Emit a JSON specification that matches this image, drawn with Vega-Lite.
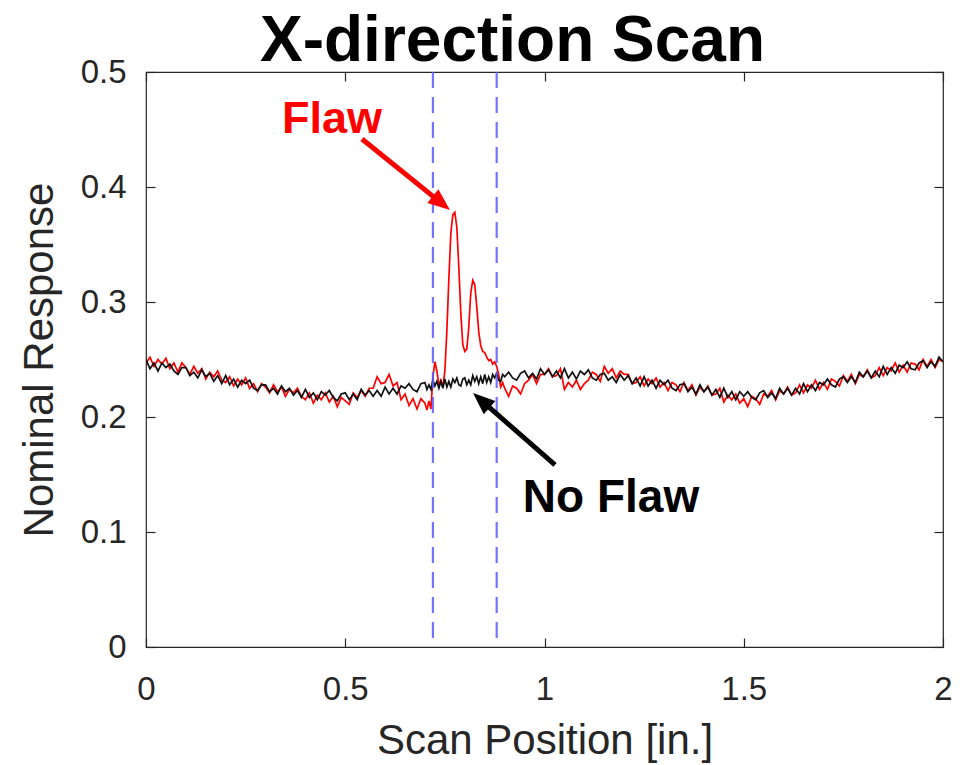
{
  "$schema": "https://vega.github.io/schema/vega-lite/v6.json",
  "width": 797,
  "height": 575,
  "autosize": {"type": "none"},
  "padding": {"left": 146, "top": 72, "right": 19, "bottom": 118},
  "background": "white",
  "title": {
    "text": "X-direction Scan",
    "font": "Liberation Sans",
    "fontSize": 64,
    "fontWeight": "bold",
    "color": "#000000",
    "anchor": "middle",
    "baseline": "bottom",
    "offset": 0,
    "dx": -32,
    "dy": 82
  },
  "config": {
    "view": {"stroke": "#262626", "strokeWidth": 1.2},
    "axis": {
      "grid": false,
      "domain": false,
      "labelFlush": false,
      "tickColor": "#262626",
      "tickSize": -9,
      "tickWidth": 1.2,
      "labelFont": "Liberation Sans",
      "labelFontSize": 33,
      "labelColor": "#262626",
      "titleFont": "Liberation Sans",
      "titleFontSize": 42,
      "titleFontWeight": "normal",
      "titleColor": "#262626"
    }
  },
  "layer": [
    {
      "data": {
        "values": [
          {"x":0.00,"n":0.250,"f":0.247},{"x":0.01,"n":0.242,"f":0.252},{"x":0.02,"n":0.247,"f":0.244},{"x":0.03,"n":0.240,"f":0.250},{"x":0.04,"n":0.247,"f":0.246},
          {"x":0.05,"n":0.243,"f":0.251},{"x":0.06,"n":0.246,"f":0.242},{"x":0.07,"n":0.240,"f":0.247},{"x":0.08,"n":0.237,"f":0.239},{"x":0.09,"n":0.243,"f":0.247},
          {"x":0.10,"n":0.243,"f":0.243},{"x":0.11,"n":0.236,"f":0.237},{"x":0.12,"n":0.239,"f":0.244},{"x":0.13,"n":0.234,"f":0.238},{"x":0.14,"n":0.241,"f":0.242},
          {"x":0.15,"n":0.235,"f":0.233},{"x":0.16,"n":0.238,"f":0.239},{"x":0.17,"n":0.231,"f":0.235},{"x":0.18,"n":0.236,"f":0.240},{"x":0.19,"n":0.229,"f":0.232},
          {"x":0.20,"n":0.236,"f":0.230},{"x":0.21,"n":0.228,"f":0.235},{"x":0.22,"n":0.233,"f":0.227},{"x":0.23,"n":0.226,"f":0.233},{"x":0.24,"n":0.232,"f":0.228},
          {"x":0.25,"n":0.229,"f":0.234},{"x":0.26,"n":0.232,"f":0.225},{"x":0.27,"n":0.225,"f":0.229},{"x":0.28,"n":0.223,"f":0.222},{"x":0.29,"n":0.228,"f":0.229},
          {"x":0.30,"n":0.228,"f":0.226},{"x":0.31,"n":0.222,"f":0.221},{"x":0.32,"n":0.225,"f":0.228},{"x":0.33,"n":0.220,"f":0.222},{"x":0.34,"n":0.227,"f":0.226},
          {"x":0.35,"n":0.222,"f":0.218},{"x":0.36,"n":0.225,"f":0.224},{"x":0.37,"n":0.219,"f":0.221},{"x":0.38,"n":0.223,"f":0.225},{"x":0.39,"n":0.217,"f":0.218},
          {"x":0.40,"n":0.224,"f":0.215},{"x":0.41,"n":0.217,"f":0.221},{"x":0.42,"n":0.221,"f":0.212},{"x":0.43,"n":0.215,"f":0.219},{"x":0.44,"n":0.222,"f":0.215},
          {"x":0.45,"n":0.219,"f":0.221},{"x":0.46,"n":0.223,"f":0.213},{"x":0.47,"n":0.217,"f":0.218},{"x":0.48,"n":0.214,"f":0.209},{"x":0.49,"n":0.220,"f":0.217},
          {"x":0.50,"n":0.221,"f":0.214},{"x":0.51,"n":0.215,"f":0.211},{"x":0.52,"n":0.220,"f":0.221},{"x":0.53,"n":0.215,"f":0.217},{"x":0.54,"n":0.224,"f":0.223},
          {"x":0.55,"n":0.219,"f":0.218},{"x":0.56,"n":0.223,"f":0.225},{"x":0.57,"n":0.218,"f":0.225},{"x":0.58,"n":0.223,"f":0.235},{"x":0.59,"n":0.218,"f":0.229},
          {"x":0.60,"n":0.226,"f":0.230},{"x":0.61,"n":0.220,"f":0.237},{"x":0.62,"n":0.225,"f":0.227},{"x":0.63,"n":0.220,"f":0.230},{"x":0.64,"n":0.227,"f":0.215},
          {"x":0.65,"n":0.225,"f":0.220},{"x":0.66,"n":0.229,"f":0.210},{"x":0.67,"n":0.224,"f":0.216},{"x":0.68,"n":0.222,"f":0.207},{"x":0.69,"n":0.229,"f":0.216},
          {"x":0.700,"n":0.230,"f":0.212},{"x":0.705,"n":0.224,"f":0.206},{"x":0.710,"n":0.228,"f":0.214},{"x":0.715,"n":0.224,"f":0.207},{"x":0.720,"n":0.232,"f":0.235},
          {"x":0.725,"n":0.227,"f":0.248},{"x":0.730,"n":0.231,"f":0.240},{"x":0.735,"n":0.225,"f":0.228},{"x":0.740,"n":0.231,"f":0.232},{"x":0.745,"n":0.225,"f":0.226},
          {"x":0.750,"n":0.233,"f":0.240},{"x":0.755,"n":0.226,"f":0.275},{"x":0.760,"n":0.231,"f":0.320},{"x":0.765,"n":0.226,"f":0.360},{"x":0.770,"n":0.233,"f":0.376},
          {"x":0.775,"n":0.230,"f":0.378},{"x":0.780,"n":0.234,"f":0.365},{"x":0.785,"n":0.228,"f":0.330},{"x":0.790,"n":0.227,"f":0.290},{"x":0.795,"n":0.233,"f":0.263},
          {"x":0.800,"n":0.234,"f":0.257},{"x":0.805,"n":0.228,"f":0.259},{"x":0.810,"n":0.232,"f":0.278},{"x":0.815,"n":0.228,"f":0.308},{"x":0.820,"n":0.236,"f":0.319},
          {"x":0.825,"n":0.231,"f":0.315},{"x":0.830,"n":0.235,"f":0.296},{"x":0.835,"n":0.229,"f":0.274},{"x":0.840,"n":0.235,"f":0.262},{"x":0.845,"n":0.229,"f":0.257},
          {"x":0.850,"n":0.237,"f":0.256},{"x":0.855,"n":0.230,"f":0.252},{"x":0.860,"n":0.235,"f":0.249},{"x":0.865,"n":0.230,"f":0.250},{"x":0.870,"n":0.237,"f":0.246},
          {"x":0.875,"n":0.234,"f":0.248},{"x":0.880,"n":0.238,"f":0.244},{"x":0.885,"n":0.232,"f":0.237},{"x":0.890,"n":0.231,"f":0.226},{"x":0.895,"n":0.237,"f":0.230},
          {"x":0.90,"n":0.235,"f":0.225},{"x":0.91,"n":0.239,"f":0.218},{"x":0.92,"n":0.234,"f":0.227},{"x":0.93,"n":0.232,"f":0.225},{"x":0.94,"n":0.238,"f":0.220},
          {"x":0.95,"n":0.240,"f":0.229},{"x":0.96,"n":0.234,"f":0.232},{"x":0.97,"n":0.238,"f":0.237},{"x":0.98,"n":0.233,"f":0.229},{"x":0.99,"n":0.242,"f":0.237},
          {"x":1.00,"n":0.237,"f":0.237},{"x":1.01,"n":0.241,"f":0.242},{"x":1.02,"n":0.235,"f":0.235},{"x":1.03,"n":0.240,"f":0.236},{"x":1.04,"n":0.234,"f":0.242},
          {"x":1.05,"n":0.242,"f":0.224},{"x":1.06,"n":0.234,"f":0.230},{"x":1.07,"n":0.239,"f":0.226},{"x":1.08,"n":0.233,"f":0.232},{"x":1.09,"n":0.240,"f":0.224},
          {"x":1.10,"n":0.237,"f":0.229},{"x":1.11,"n":0.241,"f":0.232},{"x":1.12,"n":0.234,"f":0.239},{"x":1.13,"n":0.232,"f":0.237},{"x":1.14,"n":0.237,"f":0.231},
          {"x":1.15,"n":0.238,"f":0.244},{"x":1.16,"n":0.232,"f":0.238},{"x":1.17,"n":0.235,"f":0.242},{"x":1.18,"n":0.230,"f":0.234},{"x":1.19,"n":0.237,"f":0.240},
          {"x":1.20,"n":0.232,"f":0.237},{"x":1.21,"n":0.236,"f":0.237},{"x":1.22,"n":0.229,"f":0.229},{"x":1.23,"n":0.234,"f":0.230},{"x":1.24,"n":0.227,"f":0.235},
          {"x":1.25,"n":0.235,"f":0.227},{"x":1.26,"n":0.227,"f":0.233},{"x":1.27,"n":0.232,"f":0.229},{"x":1.28,"n":0.225,"f":0.234},{"x":1.29,"n":0.232,"f":0.226},
          {"x":1.30,"n":0.228,"f":0.230},{"x":1.31,"n":0.232,"f":0.223},{"x":1.32,"n":0.225,"f":0.230},{"x":1.33,"n":0.223,"f":0.228},{"x":1.34,"n":0.228,"f":0.222},
          {"x":1.35,"n":0.229,"f":0.230},{"x":1.36,"n":0.222,"f":0.223},{"x":1.37,"n":0.226,"f":0.228},{"x":1.38,"n":0.220,"f":0.219},{"x":1.39,"n":0.228,"f":0.226},
          {"x":1.40,"n":0.222,"f":0.222},{"x":1.41,"n":0.226,"f":0.227},{"x":1.42,"n":0.219,"f":0.219},{"x":1.43,"n":0.224,"f":0.220},{"x":1.44,"n":0.217,"f":0.225},
          {"x":1.45,"n":0.225,"f":0.213},{"x":1.46,"n":0.217,"f":0.219},{"x":1.47,"n":0.222,"f":0.215},{"x":1.48,"n":0.215,"f":0.220},{"x":1.49,"n":0.222,"f":0.212},
          {"x":1.50,"n":0.218,"f":0.216},{"x":1.51,"n":0.222,"f":0.209},{"x":1.52,"n":0.217,"f":0.218},{"x":1.53,"n":0.215,"f":0.216},{"x":1.54,"n":0.221,"f":0.211},
          {"x":1.55,"n":0.223,"f":0.220},{"x":1.56,"n":0.217,"f":0.218},{"x":1.57,"n":0.221,"f":0.223},{"x":1.58,"n":0.216,"f":0.215},{"x":1.59,"n":0.225,"f":0.223},
          {"x":1.60,"n":0.220,"f":0.220},{"x":1.61,"n":0.225,"f":0.226},{"x":1.62,"n":0.219,"f":0.219},{"x":1.63,"n":0.225,"f":0.221},{"x":1.64,"n":0.220,"f":0.228},
          {"x":1.65,"n":0.229,"f":0.221},{"x":1.66,"n":0.222,"f":0.228},{"x":1.67,"n":0.228,"f":0.225},{"x":1.68,"n":0.223,"f":0.232},{"x":1.69,"n":0.230,"f":0.224},
          {"x":1.70,"n":0.228,"f":0.230},{"x":1.71,"n":0.233,"f":0.224},{"x":1.72,"n":0.228,"f":0.233},{"x":1.73,"n":0.226,"f":0.231},{"x":1.74,"n":0.233,"f":0.227},
          {"x":1.75,"n":0.235,"f":0.236},{"x":1.76,"n":0.230,"f":0.231},{"x":1.77,"n":0.235,"f":0.237},{"x":1.78,"n":0.230,"f":0.229},{"x":1.79,"n":0.239,"f":0.237},
          {"x":1.80,"n":0.235,"f":0.235},{"x":1.81,"n":0.240,"f":0.241},{"x":1.82,"n":0.234,"f":0.234},{"x":1.83,"n":0.240,"f":0.236},{"x":1.84,"n":0.235,"f":0.243},
          {"x":1.85,"n":0.244,"f":0.236},{"x":1.86,"n":0.237,"f":0.243},{"x":1.87,"n":0.243,"f":0.240},{"x":1.88,"n":0.238,"f":0.247},{"x":1.89,"n":0.245,"f":0.239},
          {"x":1.90,"n":0.243,"f":0.245},{"x":1.91,"n":0.248,"f":0.239},{"x":1.92,"n":0.242,"f":0.247},{"x":1.93,"n":0.241,"f":0.246},{"x":1.94,"n":0.247,"f":0.241},
          {"x":1.95,"n":0.249,"f":0.250},{"x":1.96,"n":0.243,"f":0.244},{"x":1.97,"n":0.248,"f":0.250},{"x":1.98,"n":0.244,"f":0.243},{"x":1.99,"n":0.252,"f":0.250},
          {"x":2.00,"n":0.248,"f":0.248}
        ]
      },
      "transform": [{"fold": ["f", "n"], "as": ["series", "y"]}],
      "mark": {"type": "line", "strokeWidth": 1.7, "clip": true},
      "encoding": {
        "x": {
          "field": "x", "type": "quantitative",
          "scale": {"domain": [0, 2], "nice": false, "zero": false},
          "axis": {"orient": "bottom", "values": [0, 0.5, 1, 1.5, 2], "format": "~g", "labelPadding": 35, "title": "Scan Position [in.]", "titlePadding": 14}
        },
        "y": {
          "field": "y", "type": "quantitative",
          "scale": {"domain": [0, 0.5], "nice": false, "zero": false},
          "axis": {"orient": "left", "values": [0, 0.1, 0.2, 0.3, 0.4, 0.5], "format": "~g", "labelPadding": 29, "title": "Nominal Response", "titlePadding": 19}
        },
        "color": {
          "field": "series", "type": "nominal",
          "scale": {"domain": ["f", "n"], "range": ["#ff0000", "#111111"]},
          "legend": null
        }
      }
    },
    {
      "data": {"values": [{"x0": 0.5420, "y0": 0.4417, "x1": 0.7413, "y1": 0.3860}]},
      "mark": {"type": "rule", "color": "#ff0000", "strokeWidth": 5},
      "encoding": {
        "x": {"field": "x0", "type": "quantitative", "axis": {"orient": "top", "values": [0, 0.5, 1, 1.5, 2], "labels": false, "title": null}},
        "y": {"field": "y0", "type": "quantitative", "axis": {"orient": "right", "values": [0, 0.1, 0.2, 0.3, 0.4, 0.5], "labels": false, "title": null}},
        "x2": {"field": "x1"},
        "y2": {"field": "y1"}
      }
    },
    {
      "data": {"values": [{"pos": 0.72}, {"pos": 0.88}]},
      "mark": {"type": "rule", "color": "#5a5aff", "strokeWidth": 2.2, "strokeDash": [16, 9], "opacity": 0.85},
      "encoding": {
        "x": {"field": "pos", "type": "quantitative", "axis": null}
      }
    },
    {
      "data": {"values": [{"x0": 1.0263, "y0": 0.1583, "x1": 0.8414, "y1": 0.2145}]},
      "mark": {"type": "rule", "color": "#000000", "strokeWidth": 5},
      "encoding": {
        "x": {"field": "x0", "type": "quantitative", "axis": null},
        "y": {"field": "y0", "type": "quantitative", "axis": null},
        "x2": {"field": "x1"},
        "y2": {"field": "y1"}
      }
    },
    {
      "data": {"values": [{"x": 0.7413, "y": 0.3860}]},
      "mark": {"type": "point", "shape": "M-1,-0.8L1,0L-1,0.8Z", "filled": true, "size": 484, "angle": 38.9, "color": "#ff0000", "opacity": 1},
      "encoding": {
        "x": {"field": "x", "type": "quantitative", "axis": null},
        "y": {"field": "y", "type": "quantitative", "axis": null}
      }
    },
    {
      "data": {"values": [{"x": 0.8414, "y": 0.2145}]},
      "mark": {"type": "point", "shape": "M-1,-0.8L1,0L-1,0.8Z", "filled": true, "size": 484, "angle": 221.3, "color": "#000000", "opacity": 1},
      "encoding": {
        "x": {"field": "x", "type": "quantitative", "axis": null},
        "y": {"field": "y", "type": "quantitative", "axis": null}
      }
    },
    {
      "data": {"values": [{"x": 0.4668, "y": 0.447, "label": "Flaw"}]},
      "mark": {"type": "text", "font": "Liberation Sans", "fontSize": 45, "fontWeight": "bold", "color": "#ff0000", "align": "center", "baseline": "alphabetic"},
      "encoding": {
        "x": {"field": "x", "type": "quantitative", "axis": null},
        "y": {"field": "y", "type": "quantitative", "axis": null},
        "text": {"field": "label"}
      }
    },
    {
      "data": {"values": [{"x": 1.1669, "y": 0.1174, "label": "No Flaw"}]},
      "mark": {"type": "text", "font": "Liberation Sans", "fontSize": 46, "fontWeight": "bold", "color": "#000000", "align": "center", "baseline": "alphabetic"},
      "encoding": {
        "x": {"field": "x", "type": "quantitative", "axis": null},
        "y": {"field": "y", "type": "quantitative", "axis": null},
        "text": {"field": "label"}
      }
    }
  ],
  "resolve": {"axis": {"x": "independent", "y": "independent"}}
}
